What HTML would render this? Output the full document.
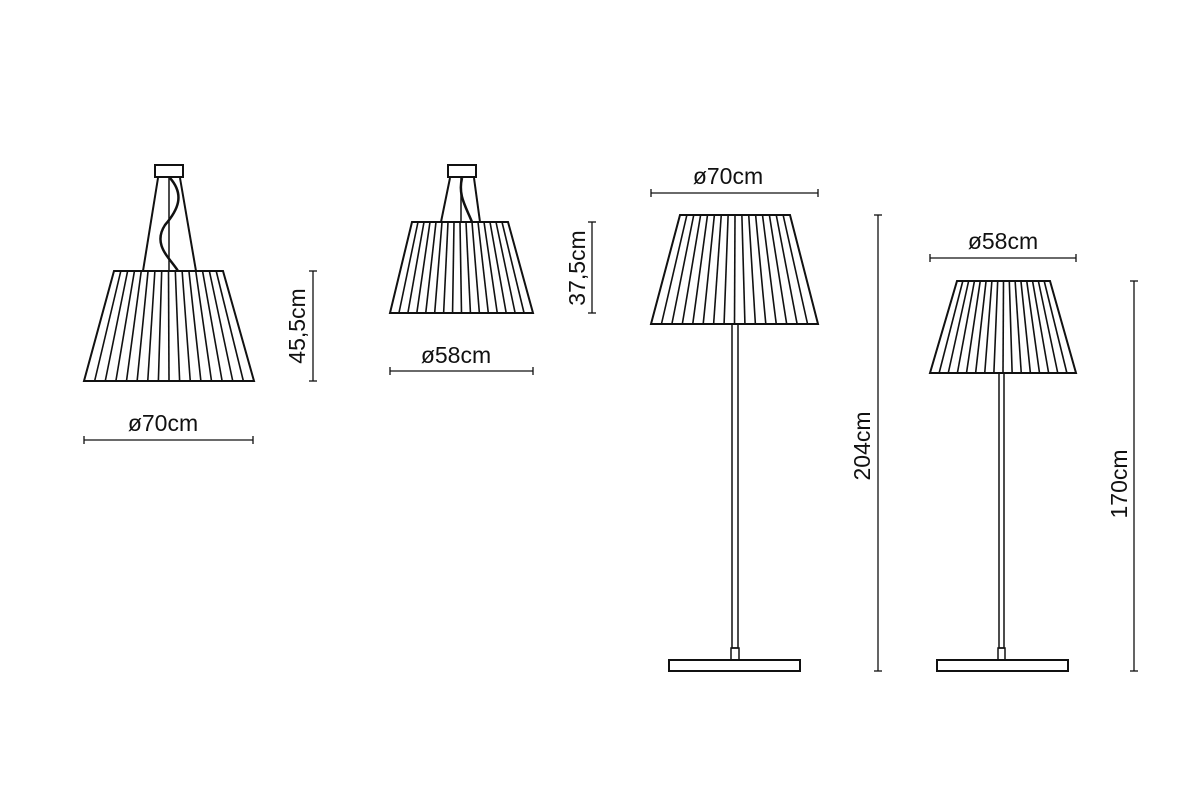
<!DOCTYPE html>
<html><head><meta charset="utf-8"><style>
html,body{margin:0;padding:0;background:#fff;}
svg{display:block;}
text{font-family:"Liberation Sans",sans-serif;font-size:23px;fill:#111;}
</style></head><body>
<svg id="s" width="1200" height="800" viewBox="0 0 1200 800" xmlns="http://www.w3.org/2000/svg">
<g id="g" stroke="#111" stroke-width="2" fill="none"></g>
<text x="163" y="431" text-anchor="middle">ø70cm</text>
<text x="456" y="363" text-anchor="middle">ø58cm</text>
<text x="728" y="184" text-anchor="middle">ø70cm</text>
<text x="1003" y="249" text-anchor="middle">ø58cm</text>
<text transform="translate(305,326) rotate(-90)" text-anchor="middle">45,5cm</text>
<text transform="translate(585,268) rotate(-90)" text-anchor="middle">37,5cm</text>
<text transform="translate(870,446) rotate(-90)" text-anchor="middle">204cm</text>
<text transform="translate(1127,484) rotate(-90)" text-anchor="middle">170cm</text>
</svg>
<script>
var g=document.getElementById('g'),NS='http://www.w3.org/2000/svg';
function el(t,a){var e=document.createElementNS(NS,t);for(var k in a)e.setAttribute(k,a[k]);g.appendChild(e);return e;}
function L(x1,y1,x2,y2,w){el('line',{x1:x1,y1:y1,x2:x2,y2:y2,'stroke-width':w||2});}
function shade(tl,tr,ty,bl,br,by,n){
 el('polygon',{points:tl+','+ty+' '+tr+','+ty+' '+br+','+by+' '+bl+','+by});
 for(var i=1;i<n;i++){var f=i/n;L(tl+(tr-tl)*f,ty,bl+(br-bl)*f,by,1.6);}
}
function hdim(x1,x2,y){L(x1,y,x2,y,1.3);L(x1,y-4,x1,y+4,1.3);L(x2,y-4,x2,y+4,1.3);}
function vdim(x,y1,y2){L(x,y1,x,y2,1.3);L(x-4,y1,x+4,y1,1.3);L(x-4,y2,x+4,y2,1.3);}
el('rect',{x:155,y:165,width:28,height:12});
L(158,178,143,271);L(180,178,196,271);L(169,178,169,271,1.5);
el('path',{d:'M170,178 C185,195 178,210 165,225 C152,245 170,258 178,271','stroke-width':2.5});
shade(114,223,271,84,254,381,16);
vdim(313,271,381);hdim(84,253,440);
el('rect',{x:448,y:165,width:28,height:12});
L(450,178,441,222);L(474,178,480,222);L(461,178,461,222,1.5);
el('path',{d:'M462,178 C458,195 465,205 472,222','stroke-width':2.5});
shade(412,508,222,390,533,313,16);
vdim(592,222,313);hdim(390,533,371);
hdim(651,818,193);
shade(680,790,215,651,818,324,16);
el('rect',{x:732,y:324,width:6,height:324,'stroke-width':1.5});
el('rect',{x:731,y:648,width:8,height:12,'stroke-width':1.5});
el('rect',{x:669,y:660,width:131,height:11});
vdim(878,215,671);
hdim(930,1076,258);
shade(957,1050,281,930,1076,373,16);
el('rect',{x:999,y:373,width:5,height:275,'stroke-width':1.5});
el('rect',{x:998,y:648,width:7,height:12,'stroke-width':1.5});
el('rect',{x:937,y:660,width:131,height:11});
vdim(1134,281,671);
</script>
</body></html>
